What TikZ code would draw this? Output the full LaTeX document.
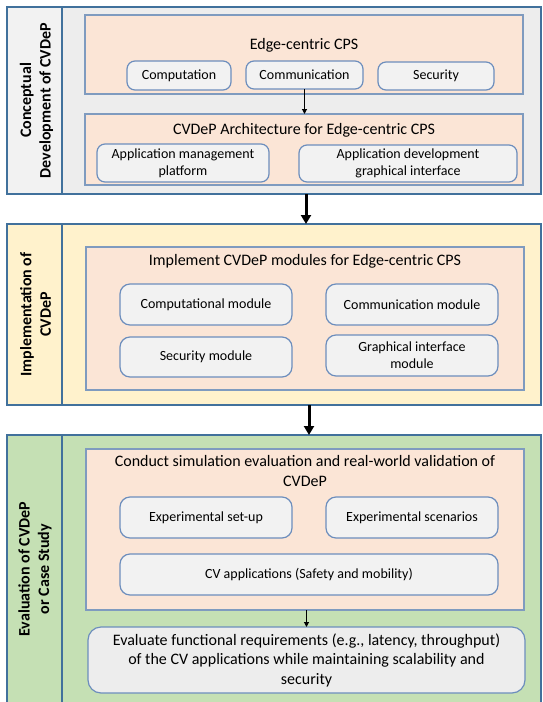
\documentclass[tikz,border=0pt]{standalone}
\usepackage{fontspec}
\setmainfont{Carlito}
\usetikzlibrary{arrows.meta}
\definecolor{secborder}{HTML}{41719C}
\definecolor{grayfill}{HTML}{EDEDED}
\definecolor{graylab}{HTML}{F2F2F2}
\definecolor{yellowfill}{HTML}{FFF2CC}
\definecolor{greenfill}{HTML}{C5E0B4}
\definecolor{salmonfill}{HTML}{FBE5D6}
\definecolor{salmonborder}{HTML}{7F9BBF}
\definecolor{modborder}{HTML}{6D8EBD}
\definecolor{modfill}{HTML}{F2F2F2}
\definecolor{evalfill}{HTML}{EDEDED}
\newcommand\myTitleFont{\fontsize{16}{19.5}\selectfont}
\newcommand\myBoxFont{\fontsize{14}{17}\selectfont}
\newcommand\myLabFont{\fontsize{16}{19.5}\selectfont\bfseries}
\begin{document}
\begin{tikzpicture}[x=1pt,y=-1pt,
  every node/.style={outer sep=0pt, inner sep=2pt},
  secbox/.style={draw=secborder, line width=2.5pt, anchor=north west},
  labtext/.style={rotate=90, align=center, font=\myLabFont},
  salmonbox/.style={draw=salmonborder, line width=1.3pt, fill=salmonfill, anchor=north west},
  modbox/.style={draw=modborder, line width=1.2pt, fill=modfill, rounded corners=8pt, anchor=north west, align=center, font=\myBoxFont},
  titletext/.style={align=center, font=\myTitleFont},
  bigarrow/.style={line width=3pt, -{Triangle[length=9pt,width=10pt]}},
  smallarrow/.style={line width=1.1pt, -{Triangle[length=5pt,width=5pt]}}
]
\useasboundingbox (0,0) rectangle (542,702);
\fill[white] (0,0) rectangle (542,702);

% ---------- Section 1 ----------
\node[secbox, fill=grayfill, minimum width=534pt, minimum height=187pt] (sec1) at (7,7) {};
\node[secbox, fill=graylab, minimum width=55pt, minimum height=187pt] (lab1) at (7,7) {};
\node[labtext] (lab1t) at ([xshift=2pt]lab1.center) {Conceptual\\Development of CVDeP};

\node[salmonbox, minimum width=438pt, minimum height=79pt] (s1a) at (85,15) {};
\node[titletext] (t1a) at (304,45) {Edge-centric CPS};
\node[modbox, minimum width=104pt, minimum height=29pt] (comp) at (127,61) {Computation};
\node[modbox, minimum width=117pt, minimum height=28pt] (comm) at (246,61) {Communication};
\node[modbox, minimum width=116pt, minimum height=28pt] (secu) at (378,62) {Security};

\node[salmonbox, minimum width=438pt, minimum height=71pt] (s1b) at (85,114) {};
\node[titletext] (t1b) at (304,130) {CVDeP Architecture for Edge-centric CPS};
\node[modbox, minimum width=172pt, minimum height=38pt] (appm) at (97,144) {Application management\\platform};
\node[modbox, minimum width=218pt, minimum height=37pt] (appd) at (299,145) {Application development\\graphical interface};

\draw[smallarrow] (comm.south) -- (comm.south |- s1b.north);

% ---------- Section 2 ----------
\node[secbox, fill=yellowfill, minimum width=534pt, minimum height=181pt] (sec2) at (7,224) {};
\node[secbox, fill=yellowfill, minimum width=55pt, minimum height=181pt] (lab2) at (7,224) {};
\node[labtext] (lab2t) at ([xshift=1pt]lab2.center) {Implementation of\\CVDeP};

\node[salmonbox, minimum width=438pt, minimum height=143pt] (s2) at (86,247) {};
\node[titletext] (t2) at (305,261) {Implement CVDeP modules for Edge-centric CPS};
\node[modbox, minimum width=172pt, minimum height=41pt, rounded corners=10pt] (cmod) at (120,284) {Computational module};
\node[modbox, minimum width=172pt, minimum height=41pt, rounded corners=10pt] (mmod) at (326,284) {Communication module};
\node[modbox, minimum width=172pt, minimum height=40pt, rounded corners=10pt] (smod) at (120,337) {Security module};
\node[modbox, minimum width=172pt, minimum height=41pt, rounded corners=10pt] (gmod) at (326,335) {Graphical interface\\module};

\coordinate (a1s) at (306,194);
\coordinate (a1e) at (306,224);
\draw[bigarrow] (a1s) -- (a1e);

% ---------- Section 3 ----------
\node[secbox, fill=greenfill, minimum width=534pt, minimum height=275pt] (sec3) at (7,435) {};
\node[secbox, fill=greenfill, minimum width=55pt, minimum height=275pt] (lab3) at (7,435) {};
\node[labtext] (lab3t) at (35,569) {Evaluation of CVDeP\\or Case Study};

\node[salmonbox, minimum width=438pt, minimum height=161pt] (s3) at (86,449) {};
\node[titletext] (t3) at (305,471) {Conduct simulation evaluation and real-world validation of\\CVDeP};
\node[modbox, minimum width=172pt, minimum height=41pt, rounded corners=10pt] (esu) at (120,497) {Experimental set-up};
\node[modbox, minimum width=172pt, minimum height=41pt, rounded corners=10pt] (esc) at (326,497) {Experimental scenarios};
\node[modbox, minimum width=378pt, minimum height=41pt, rounded corners=10pt] (cva) at (120,554) {CV applications (Safety and mobility)};

\node[modbox, fill=evalfill, minimum width=437pt, minimum height=66pt, rounded corners=13pt, font=\myTitleFont] (evalr) at (88,627) {Evaluate functional requirements (e.g., latency, throughput)\\of the CV applications while maintaining scalability and\\security};

\draw[smallarrow] (s3.south -| evalr.north) -- (evalr.north);

\coordinate (a2s) at (309,405);
\coordinate (a2e) at (309,435);
\draw[bigarrow] (a2s) -- (a2e);
\end{tikzpicture}
\end{document}
